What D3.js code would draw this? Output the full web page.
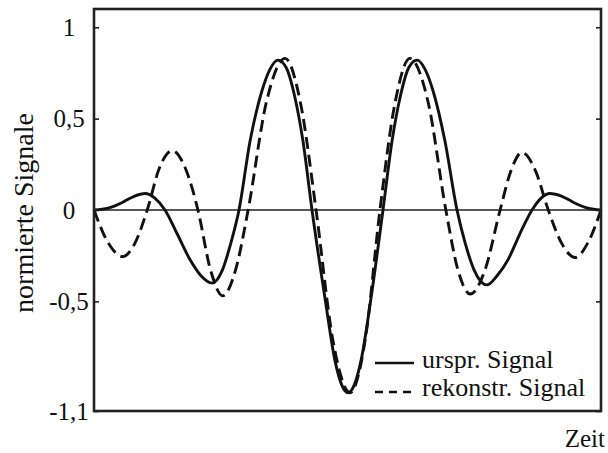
<!DOCTYPE html>
<html>
<head>
<meta charset="utf-8">
<script src="https://cdn.jsdelivr.net/npm/d3@7"></script>
<style>
  html, body { margin: 0; padding: 0; background: #fff; }
  svg { display: block; }
  svg text { font-family: "Liberation Serif", "Tinos", "Times New Roman", "DejaVu Serif", serif; fill: #111; }
</style>
</head>
<body>
<svg id="chart" width="608" height="453"></svg>
<script>
// Original signal (solid): time samples and normalised amplitude
const tOrig = [0, 2.8, 5.5, 7.9, 10.1, 12.0, 14.0, 16.4, 18.9, 21.1, 23.3, 25.3, 27.0, 28.6,
  30.8, 33.1, 34.7, 36.3, 37.9, 39.6, 41.2, 43.0, 45.6, 47.5, 48.9, 50.1, 51.3, 52.7, 54.6,
  57.0, 58.8, 60.4, 62.1, 63.7, 65.3, 66.9, 69.2, 71.6, 73.2, 75.0, 77.5, 79.5, 81.7, 84.0,
  86.4, 88.2, 89.9, 92.3, 94.7, 97.4, 100];
const vOrig = [0, 0.01, 0.04, 0.075, 0.09, 0.065, 0, -0.13, -0.27, -0.36, -0.40, -0.33, -0.18, 0,
  0.38, 0.65, 0.77, 0.82, 0.78, 0.62, 0.38, 0, -0.49, -0.82, -0.96, -1.0, -0.96, -0.82, -0.49,
  0, 0.38, 0.62, 0.78, 0.82, 0.77, 0.65, 0.38, 0, -0.18, -0.33, -0.41, -0.36, -0.27, -0.13,
  0, 0.065, 0.09, 0.075, 0.04, 0.01, 0];

// Reconstructed signal (dashed)
const tRec = [0, 2.8, 5.7, 8.1, 10.5, 12.9, 15.4, 18.0, 20.5, 23.0, 25.4, 27.9, 30.4, 34.0,
  37.7, 40.7, 43.8, 47.1, 50.5, 53.5, 56.4, 59.4, 62.3, 65.9, 69.4, 71.8, 74.2, 77.1, 80.1,
  82.3, 84.4, 87.0, 89.6, 92.2, 94.9, 97.4, 100];
const vRec = [0, -0.18, -0.255, -0.18, 0, 0.23, 0.325, 0.23, 0, -0.33, -0.47, -0.33, 0, 0.59,
  0.83, 0.59, 0, -0.71, -1.0, -0.71, 0, 0.59, 0.83, 0.59, 0, -0.33, -0.46, -0.33, 0,
  0.22, 0.315, 0.22, 0, -0.18, -0.26, -0.18, 0];

const yTicks = [-1.1, -0.5, 0, 0.5, 1];
const yTickLabels = ["-1,1", "-0,5", "0", "0,5", "1"];
const seriesNames = ["urspr. Signal", "rekonstr. Signal"];
const yTitle = "normierte Signale";
const xTitle = "Zeit";

const FONT = '"Liberation Serif", "Tinos", "Times New Roman", "DejaVu Serif", serif';

const svg = d3.select("#chart");
const m = { left: 94, right: 601, top: 9, bottom: 411 };

const x = d3.scaleLinear().domain([0, 100]).range([m.left, m.right]);
const y = d3.scaleLinear().domain([-1.1, 1.1]).range([m.bottom, m.top]);

// zero line
svg.append("line")
  .attr("x1", x(0)).attr("x2", x(100))
  .attr("y1", y(0)).attr("y2", y(0))
  .attr("stroke", "#222").attr("stroke-width", 1.6);

const line = d3.line()
  .x(d => x(d[0])).y(d => y(d[1]))
  .curve(d3.curveMonotoneX);

const recData = tRec.map((t, i) => [t, vRec[i]]);
const origData = tOrig.map((t, i) => [t, vOrig[i]]);

svg.append("path")
  .datum(recData)
  .attr("d", line)
  .attr("fill", "none")
  .attr("stroke", "#111")
  .attr("stroke-width", 2.9)
  .attr("stroke-dasharray", "12,6");

svg.append("path")
  .datum(origData)
  .attr("d", line)
  .attr("fill", "none")
  .attr("stroke", "#111")
  .attr("stroke-width", 2.9);

// left axis with inward ticks
const axL = svg.append("g")
  .attr("transform", `translate(${m.left},0)`)
  .call(d3.axisLeft(y).tickValues(yTicks)
    .tickFormat((d, i) => yTickLabels[i])
    .tickSize(-5).tickPadding(0));
axL.attr("font-family", FONT);
axL.select(".domain").remove();
axL.selectAll(".tick line").attr("stroke", "#222").attr("stroke-width", 1.6);
axL.selectAll(".tick text")
  .attr("x", -25)
  .attr("text-anchor", "middle")
  .attr("font-size", 25)
  .attr("font-family", FONT)
  .attr("fill", "#111");

// right axis ticks, inward
const axR = svg.append("g")
  .attr("transform", `translate(${m.right},0)`)
  .call(d3.axisRight(y).tickValues(yTicks).tickFormat("").tickSize(-5));
axR.select(".domain").remove();
axR.selectAll(".tick line").attr("stroke", "#222").attr("stroke-width", 1.6);

// frame
svg.append("rect")
  .attr("x", m.left).attr("y", m.top)
  .attr("width", m.right - m.left).attr("height", m.bottom - m.top)
  .attr("fill", "none").attr("stroke", "#222").attr("stroke-width", 2.6);

// axis titles
svg.append("text")
  .attr("transform", `translate(33,${(m.top + m.bottom) / 2 + 3}) rotate(-90)`)
  .attr("text-anchor", "middle")
  .attr("font-family", FONT)
  .attr("font-size", 28)
  .text(yTitle);

svg.append("text")
  .attr("x", 605).attr("y", 447)
  .attr("text-anchor", "end")
  .attr("font-family", FONT)
  .attr("font-size", 25)
  .text(xTitle);

// legend
const legend = svg.append("g");
const legRows = [
  { name: seriesNames[0], dash: null, ly: 363, ty: 368 },
  { name: seriesNames[1], dash: "8,6", ly: 392, ty: 396 }
];
legRows.forEach(r => {
  legend.append("line")
    .attr("x1", 375).attr("x2", 414)
    .attr("y1", r.ly).attr("y2", r.ly)
    .attr("stroke", "#111").attr("stroke-width", 2.6)
    .attr("stroke-dasharray", r.dash);
  legend.append("text")
    .attr("x", 422).attr("y", r.ty)
    .attr("font-family", FONT)
    .attr("font-size", 26)
    .text(r.name);
});
</script>
</body>
</html>
